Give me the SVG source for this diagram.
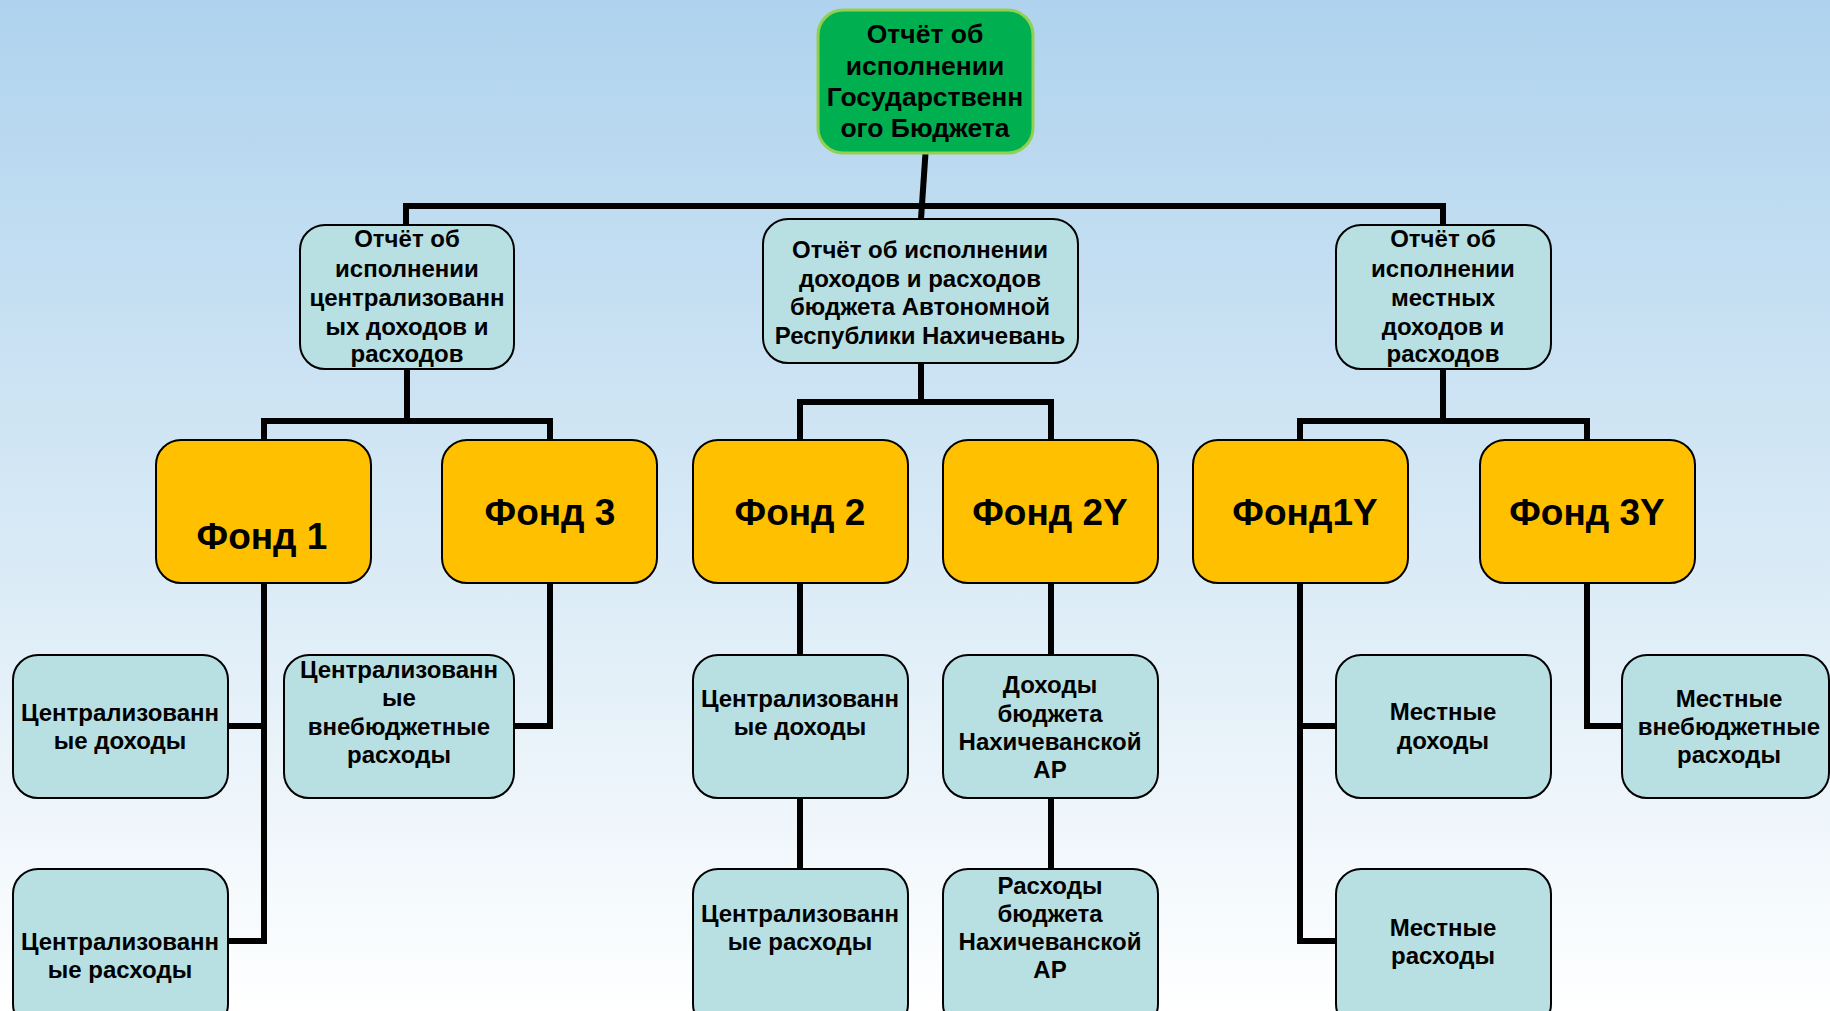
<svg xmlns="http://www.w3.org/2000/svg" width="1830" height="1011" viewBox="0 0 1830 1011">
<defs>
<linearGradient id="bg" x1="0" y1="0" x2="0" y2="1">
<stop offset="0" stop-color="#AFD3EE"/>
<stop offset="0.5" stop-color="#D5E8F5"/>
<stop offset="1" stop-color="#FFFFFF"/>
</linearGradient>
</defs>
<style>
.blue{fill:#B8DFE2;stroke:#000;stroke-width:2}
.fund{fill:#FFC000;stroke:#000;stroke-width:2}
.root{fill:#00B050;stroke:#92D050;stroke-width:3}
.t{font-family:"Liberation Sans",Arial,sans-serif;font-weight:bold;font-size:24px;fill:#000;text-anchor:middle}
.tr{font-size:26.5px}
.tf{font-size:37px}
.c{fill:none;stroke:#000;stroke-width:6;stroke-linejoin:miter}
</style>
<rect x="0" y="0" width="1830" height="1011" fill="url(#bg)"/>
<g id="connectors">
<path class="c" d="M925.5 153 L921 219"/>
<path class="c" d="M406 225 V206 H1443 V225"/>
<path class="c" d="M407 369 V421 M264 440 V421 H550 V440"/>
<path class="c" d="M921 363 V402 M800 440 V402 H1051 V440"/>
<path class="c" d="M1443 369 V421 M1300 440 V421 H1587 V440"/>
<path class="c" d="M264 582 V941 H228 M228 726 H264"/>
<path class="c" d="M550 582 V726 H514"/>
<path class="c" d="M800 582 V655 M800 797 V869"/>
<path class="c" d="M1051 582 V655 M1051 797 V869"/>
<path class="c" d="M1300 582 V941 H1336 M1300 726 H1336"/>
<path class="c" d="M1587 582 V726 H1622"/>
</g>
<g id="root">
<rect class="root" x="818" y="10" width="215" height="143" rx="25"/>
<text class="t tr" x="925"><tspan x="925" y="43">Отчёт об</tspan><tspan x="925" y="75">исполнении</tspan><tspan x="925" y="106">Государственн</tspan><tspan x="925" y="137">ого Бюджета</tspan></text>
</g>
<g id="report-central">
<rect class="blue" x="300" y="225" width="214" height="144" rx="25"/>
<text class="t"><tspan x="407" y="247">Отчёт об</tspan><tspan x="407" y="277">исполнении</tspan><tspan x="407" y="306">централизованн</tspan><tspan x="407" y="335">ых доходов и</tspan><tspan x="407" y="362">расходов</tspan></text>
</g>
<g id="report-nakhchivan">
<rect class="blue" x="763" y="219" width="315" height="144" rx="25"/>
<text class="t"><tspan x="920" y="258">Отчёт об исполнении</tspan><tspan x="920" y="287">доходов и расходов</tspan><tspan x="920" y="315">бюджета Автономной</tspan><tspan x="920" y="344">Республики Нахичевань</tspan></text>
</g>
<g id="report-local">
<rect class="blue" x="1336" y="225" width="215" height="144" rx="25"/>
<text class="t"><tspan x="1443" y="247">Отчёт об</tspan><tspan x="1443" y="277">исполнении</tspan><tspan x="1443" y="306">местных</tspan><tspan x="1443" y="335">доходов и</tspan><tspan x="1443" y="362">расходов</tspan></text>
</g>
<g id="fund1">
<rect class="fund" x="156" y="440" width="215" height="143" rx="25"/>
<text class="t tf" x="262" y="549">Фонд 1</text>
</g>
<g id="fund3">
<rect class="fund" x="442" y="440" width="215" height="143" rx="25"/>
<text class="t tf" x="550" y="525">Фонд 3</text>
</g>
<g id="fund2">
<rect class="fund" x="693" y="440" width="215" height="143" rx="25"/>
<text class="t tf" x="800" y="525">Фонд 2</text>
</g>
<g id="fund2y">
<rect class="fund" x="943" y="440" width="215" height="143" rx="25"/>
<text class="t tf" x="1050" y="525">Фонд 2Y</text>
</g>
<g id="fund1y">
<rect class="fund" x="1193" y="440" width="215" height="143" rx="25"/>
<text class="t tf" x="1305" y="525">Фонд1Y</text>
</g>
<g id="fund3y">
<rect class="fund" x="1480" y="440" width="215" height="143" rx="25"/>
<text class="t tf" x="1587" y="525">Фонд 3Y</text>
</g>
<g id="central-income">
<rect class="blue" x="13" y="655" width="215" height="143" rx="25"/>
<text class="t"><tspan x="120" y="721">Централизованн</tspan><tspan x="120" y="749">ые доходы</tspan></text>
</g>
<g id="central-expense">
<rect class="blue" x="13" y="869" width="215" height="160" rx="25"/>
<text class="t"><tspan x="120" y="950">Централизованн</tspan><tspan x="120" y="978">ые расходы</tspan></text>
</g>
<g id="central-extrabudget">
<rect class="blue" x="284" y="655" width="230" height="143" rx="25"/>
<text class="t"><tspan x="399" y="678">Централизованн</tspan><tspan x="399" y="706">ые</tspan><tspan x="399" y="735">внебюджетные</tspan><tspan x="399" y="763">расходы</tspan></text>
</g>
<g id="fund2-income">
<rect class="blue" x="693" y="655" width="215" height="143" rx="25"/>
<text class="t"><tspan x="800" y="707">Централизованн</tspan><tspan x="800" y="735">ые доходы</tspan></text>
</g>
<g id="fund2-expense">
<rect class="blue" x="693" y="869" width="215" height="160" rx="25"/>
<text class="t"><tspan x="800" y="922">Централизованн</tspan><tspan x="800" y="950">ые расходы</tspan></text>
</g>
<g id="nakh-income">
<rect class="blue" x="943" y="655" width="215" height="143" rx="25"/>
<text class="t"><tspan x="1050" y="693">Доходы</tspan><tspan x="1050" y="722">бюджета</tspan><tspan x="1050" y="750">Нахичеванской</tspan><tspan x="1050" y="778">АР</tspan></text>
</g>
<g id="nakh-expense">
<rect class="blue" x="943" y="869" width="215" height="160" rx="25"/>
<text class="t"><tspan x="1050" y="894">Расходы</tspan><tspan x="1050" y="922">бюджета</tspan><tspan x="1050" y="950">Нахичеванской</tspan><tspan x="1050" y="978">АР</tspan></text>
</g>
<g id="local-income">
<rect class="blue" x="1336" y="655" width="215" height="143" rx="25"/>
<text class="t"><tspan x="1443" y="720">Местные</tspan><tspan x="1443" y="749">доходы</tspan></text>
</g>
<g id="local-expense">
<rect class="blue" x="1336" y="869" width="215" height="160" rx="25"/>
<text class="t"><tspan x="1443" y="936">Местные</tspan><tspan x="1443" y="964">расходы</tspan></text>
</g>
<g id="local-extrabudget">
<rect class="blue" x="1622" y="655" width="207" height="143" rx="25"/>
<text class="t"><tspan x="1729" y="707">Местные</tspan><tspan x="1729" y="735">внебюджетные</tspan><tspan x="1729" y="763">расходы</tspan></text>
</g>
</svg>
